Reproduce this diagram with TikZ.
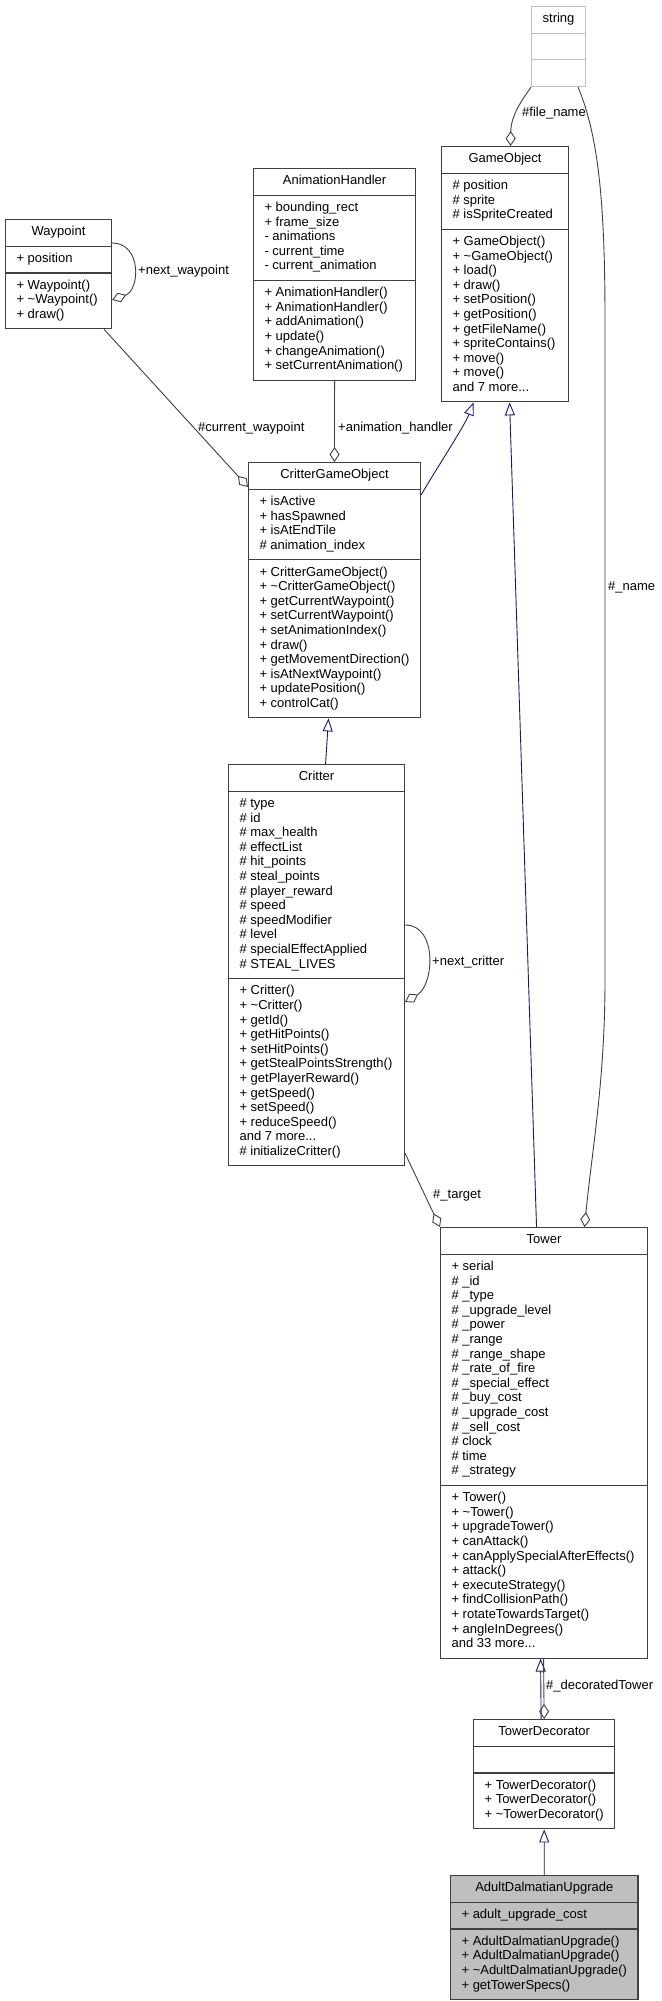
\documentclass[tikz,border=0pt]{standalone}
\usepackage{fontspec}
\setmainfont{Liberation Sans}
\usepackage{tikz}
\usetikzlibrary{arrows.meta, shapes.multipart, positioning}
\definecolor{boxLine}{HTML}{404040}
\definecolor{inhBlue}{HTML}{191970}
\definecolor{useGray}{HTML}{404040}
\definecolor{extGray}{HTML}{BFBFBF}
\definecolor{hiFill}{HTML}{BFBFBF}

\begin{document}
\fontsize{13}{14.6}\selectfont
\begin{tikzpicture}[x=1pt, y=-1pt,
  every node/.style={font=\fontsize{13}{14.6}\selectfont, inner sep=0pt},
  ucls/.style={
    rectangle split, rectangle split parts=3, draw=boxLine, line width=1.1pt,
    rectangle split part align={center,left,left}, align=left,
    anchor=north west, inner xsep=11pt, inner ysep=5.5pt, fill=white
  },
  uext/.style={ucls, draw=extGray},
  uhi/.style={ucls, fill=hiFill},
  inh/.style={draw=inhBlue, line width=0.9pt, -{Triangle[open, length=13pt, width=10pt]}},
  agg/.style={draw=useGray, line width=0.9pt, -{Diamond[open, length=15pt, width=10pt]}},
  elab/.style={anchor=west}
]
\useasboundingbox (0,0) rectangle (661,2001);

% classes
\node[uext, minimum width=54pt] (str) at (531,6) {\strut string\nodepart{two}\strut\nodepart{three}\strut};

\node[ucls, minimum width=127pt] (go) at (441,146) {\strut GameObject
  \nodepart{two}\strut\# position\\\# sprite\\\# isSpriteCreated\strut
  \nodepart{three}\strut+ GameObject()\\+ \textasciitilde GameObject()\\+ load()\\+ draw()\\+ setPosition()\\+ getPosition()\\+ getFileName()\\+ spriteContains()\\+ move()\\+ move()\\and 7 more...\strut};

\node[ucls, minimum width=162pt] (ah) at (253,168) {\strut AnimationHandler
  \nodepart{two}\strut+ bounding\_rect\\+ frame\_size\\- animations\\- current\_time\\- current\_animation\strut
  \nodepart{three}\strut+ AnimationHandler()\\+ AnimationHandler()\\+ addAnimation()\\+ update()\\+ changeAnimation()\\+ setCurrentAnimation()\strut};

\node[ucls, minimum width=106pt] (wp) at (5,219) {\strut Waypoint
  \nodepart{two}\strut+ position\strut
  \nodepart{three}\strut+ Waypoint()\\+ \textasciitilde Waypoint()\\+ draw()\strut};

\node[ucls, minimum width=170pt] (cgo) at (248,462) {\strut CritterGameObject
  \nodepart{two}\strut+ isActive\\+ hasSpawned\\+ isAtEndTile\\\# animation\_index\strut
  \nodepart{three}\strut+ CritterGameObject()\\+ \textasciitilde CritterGameObject()\\+ getCurrentWaypoint()\\+ setCurrentWaypoint()\\+ setAnimationIndex()\\+ draw()\\+ getMovementDirection()\\+ isAtNextWaypoint()\\+ updatePosition()\\+ controlCat()\strut};

\node[ucls, minimum width=176pt] (cr) at (228,764) {\strut Critter
  \nodepart{two}\strut\# type\\\# id\\\# max\_health\\\# effectList\\\# hit\_points\\\# steal\_points\\\# player\_reward\\\# speed\\\# speedModifier\\\# level\\\# specialEffectApplied\\\# STEAL\_LIVES\strut
  \nodepart{three}\strut+ Critter()\\+ \textasciitilde Critter()\\+ getId()\\+ getHitPoints()\\+ setHitPoints()\\+ getStealPointsStrength()\\+ getPlayerReward()\\+ getSpeed()\\+ setSpeed()\\+ reduceSpeed()\\and 7 more...\\\# initializeCritter()\strut};

\node[ucls, minimum width=207pt] (tw) at (440,1227) {\strut Tower
  \nodepart{two}\strut+ serial\\\# \_id\\\# \_type\\\# \_upgrade\_level\\\# \_power\\\# \_range\\\# \_range\_shape\\\# \_rate\_of\_fire\\\# \_special\_effect\\\# \_buy\_cost\\\# \_upgrade\_cost\\\# \_sell\_cost\\\# clock\\\# time\\\# \_strategy\strut
  \nodepart{three}\strut+ Tower()\\+ \textasciitilde Tower()\\+ upgradeTower()\\+ canAttack()\\+ canApplySpecialAfterEffects()\\+ attack()\\+ executeStrategy()\\+ findCollisionPath()\\+ rotateTowardsTarget()\\+ angleInDegrees()\\and 33 more...\strut};

\node[ucls, minimum width=140pt] (td) at (473,1719) {\strut TowerDecorator
  \nodepart{two}\strut
  \nodepart{three}\strut+ TowerDecorator()\\+ TowerDecorator()\\+ \textasciitilde TowerDecorator()\strut};

\node[uhi, minimum width=187pt] (adu) at (450,1875) {\strut AdultDalmatianUpgrade
  \nodepart{two}\strut+ adult\_upgrade\_cost\strut
  \nodepart{three}\strut+ AdultDalmatianUpgrade()\\+ AdultDalmatianUpgrade()\\+ \textasciitilde AdultDalmatianUpgrade()\\+ getTowerSpecs()\strut};

% inheritance
\draw[inh] ([yshift=-33pt]cgo.north east) .. controls (432,476) and (465,425) .. ([xshift=-31.5pt]go.south);
\draw[inh] ([xshift=-7.5pt]tw.north) -- ([xshift=4.5pt]go.south);
\draw[inh] ([xshift=9pt]cr.north) -- ([xshift=-6pt]cgo.south);
\draw[inh] ([xshift=-3pt]td.north) -- ([xshift=-3.5pt]tw.south);
\draw[inh] (adu.north) -- (td.south);

% members
\draw[agg] ([xshift=-0.5pt]tw.south) -- (td.north);
\draw[agg] (str.south west) .. controls (522,100) and (511,115) .. ([xshift=5.5pt]go.north);
\draw[agg] ([xshift=-8pt]str.south east) .. controls (598,135) and (605,200) .. (605,320)
  -- (605,980) .. controls (605,1080) and (592,1150) .. ([xshift=40.5pt]tw.north);
\draw[agg] (ah.south) -- (cgo.north);
\draw[agg] ([xshift=-8pt]wp.south east) -- ([yshift=-25pt]cgo.north west);
\draw[agg] ([yshift=-24pt]wp.north east) .. controls (142,243) and (140,290) .. ([yshift=-81pt]wp.north east);
\draw[agg] ([yshift=-161pt]cr.north east) .. controls (438,925) and (434,985) .. ([yshift=-238pt]cr.north east);
\draw[agg] ([yshift=13pt]cr.south east) -- (tw.north west);

% labels
\node[elab] (lfile) at (522,113) {\#file\_name};
\node[elab] (lname) at (608,587) {\#\_name};
\node[elab] (lcur) at (198,428) {\#current\_waypoint};
\node[elab] (lanim) at (338,428) {+animation\_handler};
\node[elab] (lnextwp) at (138,271) {+next\_waypoint};
\node[elab] (lnextcr) at (432,962) {+next\_critter};
\node[elab] (ltarget) at (433,1195) {\#\_target};
\node[elab] (ldec) at (546,1686) {\#\_decoratedTower};
\end{tikzpicture}
\end{document}
